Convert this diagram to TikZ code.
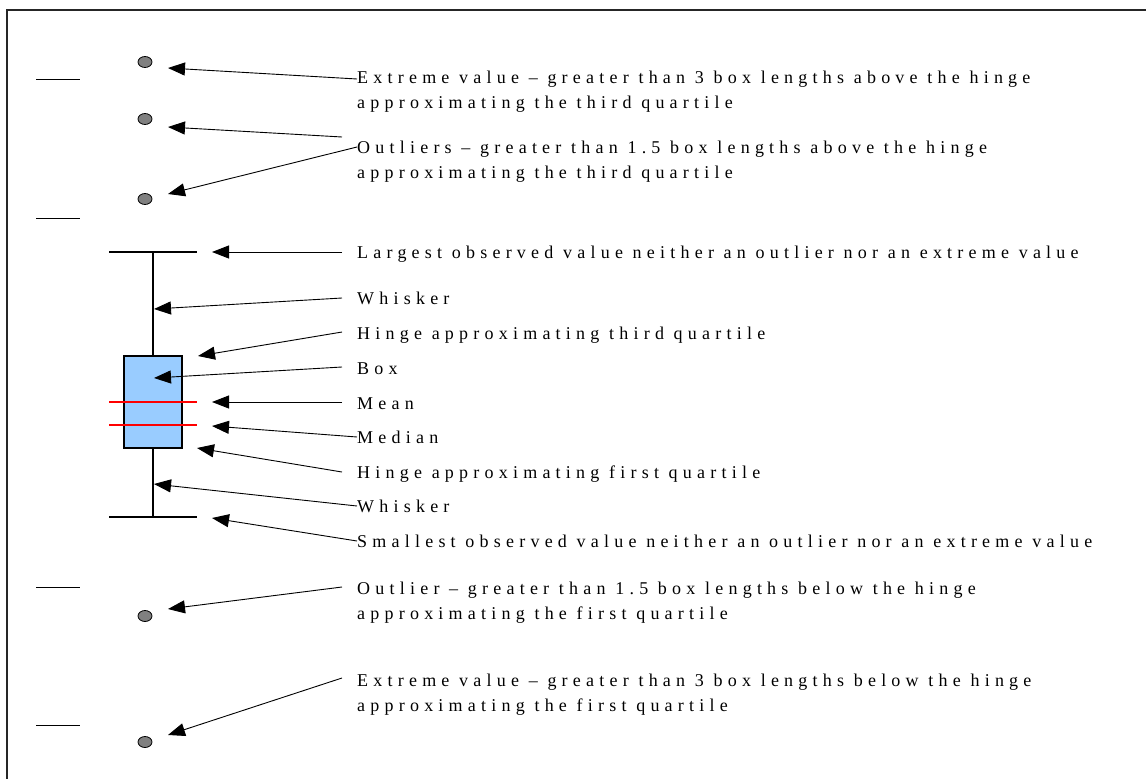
\documentclass[tikz,border=0pt]{standalone}
\usepackage{fontspec}
\setmainfont{Liberation Serif}[LetterSpace=29]
\usetikzlibrary{arrows.meta,calc,shapes.geometric}
\definecolor{boxblue}{HTML}{99CCFF}
\definecolor{dotgray}{HTML}{808080}
\tikzset{
  lbl/.style={anchor=base west, inner sep=0pt, font=\fontsize{18}{20}\selectfont},
  conn/.style={line width=0.9pt, -{Triangle[length=17pt,width=13pt]}},
  pt/.style={ellipse, draw, fill=dotgray, minimum width=14pt, minimum height=11pt, inner sep=0pt, line width=0.8pt},
  tickline/.style={line width=0.9pt},
  whisk/.style={line width=1.3pt},
  redline/.style={red, line width=1.1pt},
  frameline/.style={line width=2pt, black!85},
}
\begin{document}
\begin{tikzpicture}[x=1pt,y=-1pt]
\useasboundingbox (0,0) rectangle (1146,779);
% frame
\draw[frameline] (7,779) -- (7,10) -- (1146,10);
% left ticks
\draw[tickline] (36,79) -- (80,79);
\draw[tickline] (36,218) -- (80,218);
\draw[tickline] (36,587) -- (80,587);
\draw[tickline] (36,725) -- (80,725);
% dots
\node[pt] (d1) at (145,62) {};
\node[pt] (d2) at (145,119) {};
\node[pt] (d3) at (145,199) {};
\node[pt] (d4) at (145,616) {};
\node[pt] (d5) at (145,742) {};
% box plot
\node[draw, fill=boxblue, line width=1.3pt, minimum width=58pt, minimum height=92pt, inner sep=0pt] (box) at (153,402) {};
\coordinate (wtop) at (153,252);
\coordinate (wbot) at (153,517);
\draw[whisk] (wtop) -- (box.north);
\draw[whisk] (box.south) -- (wbot);
\draw[whisk] (109,252) -- (197,252);
\draw[whisk] (109,517) -- (197,517);
\draw[redline] (109,402) -- (197,402);
\draw[redline] (109,425) -- (197,425);
% labels
\node[lbl] (tExtA) at (357,83) {Extreme value – greater than 3 box lengths above the hinge};
\node[lbl] (tExtA2) at (357,108) {approximating the third quartile};
\node[lbl] (tOutA) at (357,153) {Outliers – greater than 1.5 box lengths above the hinge};
\node[lbl] (tOutA2) at (357,178) {approximating the third quartile};
\node[lbl] (tLarge) at (357,258) {Largest observed value neither an outlier nor an extreme value};
\node[lbl] (tWhA) at (357,304) {Whisker};
\node[lbl] (tHiA) at (357,339) {Hinge approximating third quartile};
\node[lbl] (tBox) at (357,374) {Box};
\node[lbl] (tMean) at (357,409) {Mean};
\node[lbl] (tMed) at (357,443) {Median};
\node[lbl] (tHiB) at (357,478) {Hinge approximating first quartile};
\node[lbl] (tWhB) at (357,512) {Whisker};
\node[lbl] (tSmall) at (357,547) {Smallest observed value neither an outlier nor an extreme value};
\node[lbl] (tOutB) at (357,594) {Outlier – greater than 1.5 box lengths below the hinge};
\node[lbl] (tOutB2) at (357,619) {approximating the first quartile};
\node[lbl] (tExtB) at (357,686) {Extreme value – greater than 3 box lengths below the hinge};
\node[lbl] (tExtB2) at (357,711) {approximating the first quartile};
% arrow tips
\coordinate (aExtA) at (168,68);
\coordinate (aOutA1) at (168,127);
\coordinate (aOutA2) at (168,194);
\coordinate (aLarge) at (212,252);
\coordinate (aWhA) at (154,309);
\coordinate (aHiA) at (198,356);
\coordinate (aBox) at (154,378);
\coordinate (aMean) at (212,402);
\coordinate (aMed) at (212,426);
\coordinate (aHiB) at (197,448);
\coordinate (aWhB) at (154,484);
\coordinate (aSmall) at (212,518);
\coordinate (aOutB) at (168,609);
\coordinate (aExtB) at (168,735);
% connectors
\draw[conn] ($(tExtA.base west)+(0,-4)$) -- (aExtA);
\draw[conn] ($(tOutA.base west)+(-15,-16)$) -- (aOutA1);
\draw[conn] ($(tOutA.base west)+(0,-6)$) -- (aOutA2);
\draw[conn] ($(tLarge.base west)+(-15,-6)$) -- (aLarge);
\draw[conn] ($(tWhA.base west)+(-15,-6)$) -- (aWhA);
\draw[conn] ($(tHiA.base west)+(-15,-7)$) -- (aHiA);
\draw[conn] ($(tBox.base west)+(-15,-7)$) -- (aBox);
\draw[conn] ($(tMean.base west)+(-15,-7)$) -- (aMean);
\draw[conn] ($(tMed.base west)+(0,-6)$) -- (aMed);
\draw[conn] ($(tHiB.base west)+(-15,-6)$) -- (aHiB);
\draw[conn] ($(tWhB.base west)+(0,-6)$) -- (aWhB);
\draw[conn] ($(tSmall.base west)+(0,-6)$) -- (aSmall);
\draw[conn] ($(tOutB.base west)+(-15,-7)$) -- (aOutB);
\draw[conn] ($(tExtB.base west)+(-15,-8)$) -- (aExtB);
\end{tikzpicture}
\end{document}
